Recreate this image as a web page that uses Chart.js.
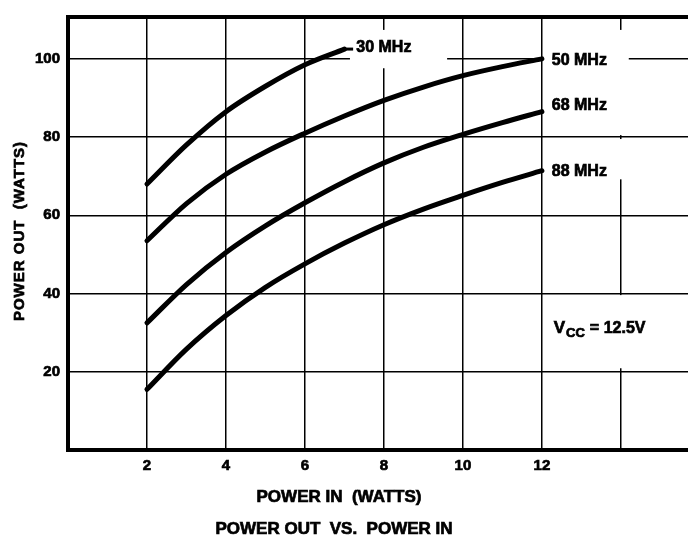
<!DOCTYPE html>
<html>
<head>
<meta charset="utf-8">
<script src="https://cdn.jsdelivr.net/npm/chart.js@4.4.1/dist/chart.umd.min.js"></script>
<style>
html, body { margin: 0; padding: 0; background: #fff; }
#wrap { width: 688px; height: 539px; }
</style>
</head>
<body>
<div id="wrap"><canvas id="powerChart" width="688" height="539"></canvas></div>
<script>
// power out vs power in, Vcc = 12.5 V
const inputs30 = [2, 3, 4, 5, 6, 7];
const output30 = [68, 78, 86.5, 93, 98.5, 102.5];

const inputsWide = [2, 3, 4, 5, 6, 7, 8, 9, 10, 11, 12];
const output50 = [53.5, 63, 70.5, 76.2, 81, 85.4, 89.4, 92.8, 95.7, 98, 100];
const output68 = [32.5, 42.3, 50.5, 57.3, 63.2, 68.6, 73.4, 77.4, 80.7, 83.7, 86.5];
const output88 = [15.5, 25.8, 34.4, 41.6, 47.6, 52.9, 57.6, 61.6, 65.1, 68.4, 71.4];

const curveNames = ['30 MHz', '50 MHz', '68 MHz', '88 MHz'];

const xTicks = [0, 2, 4, 6, 8, 10, 12, 14];
const xTickLabels = ['', '2', '4', '6', '8', '10', '12', ''];
const yTicks = [0, 20, 40, 60, 80, 100];
const yTickLabels = ['', '20', '40', '60', '80', '100'];

// where the curve names sit (in axis units), and the gaps cut in the grid around them
const labelSpots = [[7.3, 103], [12.25, 99.6], [12.25, 88], [12.25, 71.2]];
const leader30 = [[7, 102.5], [7.22, 102.5]];
const vccSpot = [12.3, 31];
const gridGapsH = [[100, 7.14, 9.6], [100, 12.05, 14.2]];
const gridGapsV = [[8, 97.6, 107.4], [14, 69.2, 79.5], [14, 80.5, 107.4], [14, 20.9, 39.6]];

const FONT = "'Liberation Sans', Arial, sans-serif";
Chart.defaults.font.family = FONT;
Chart.defaults.color = '#000';

function toPoints(xs, ys) {
    var pts = [];
    for (var i = 0; i < xs.length; i++) {
        pts.push({ x: xs[i], y: ys[i] });
    }
    return pts;
}

function curve(label, xs, ys) {
    return {
        label: label,
        data: toPoints(xs, ys),
        borderColor: '#000',
        borderWidth: 5,
        borderCapStyle: 'round',
        borderJoinStyle: 'round',
        pointRadius: 0,
        fill: false,
        cubicInterpolationMode: 'monotone'
    };
}

// filled + thin stroke, to get the heavy print look
function heavyText(ctx, txt, x, y) {
    ctx.fillText(txt, x, y);
    ctx.strokeText(txt, x, y);
}

const sheetPlugin = {
    id: 'sheet',
    beforeDatasetsDraw(chart) {
        const ctx = chart.ctx;
        const xs = chart.scales.x;
        const ys = chart.scales.y;
        const area = chart.chartArea;

        ctx.save();
        // knock the grid out behind the labels
        ctx.fillStyle = '#fff';
        gridGapsH.forEach(function (g) {
            var py = ys.getPixelForValue(g[0]);
            var x1 = xs.getPixelForValue(g[1]);
            var x2 = xs.getPixelForValue(g[2]);
            ctx.fillRect(x1, py - 2, x2 - x1, 4);
        });
        gridGapsV.forEach(function (g) {
            var px = xs.getPixelForValue(g[0]);
            var y1 = ys.getPixelForValue(g[2]);
            var y2 = ys.getPixelForValue(g[1]);
            ctx.fillRect(px - 2, y1, 4, y2 - y1);
        });

        // heavy frame: top, left, bottom (right side runs off the page)
        ctx.strokeStyle = '#000';
        ctx.lineWidth = 4;
        ctx.lineCap = 'square';
        ctx.beginPath();
        ctx.moveTo(area.right, area.top);
        ctx.lineTo(area.left, area.top);
        ctx.lineTo(area.left, area.bottom);
        ctx.lineTo(area.right, area.bottom);
        ctx.stroke();

        // little leader from the 30 MHz curve to its name
        ctx.lineWidth = 3;
        ctx.lineCap = 'butt';
        ctx.beginPath();
        ctx.moveTo(xs.getPixelForValue(leader30[0][0]), ys.getPixelForValue(leader30[0][1]));
        ctx.lineTo(xs.getPixelForValue(leader30[1][0]), ys.getPixelForValue(leader30[1][1]));
        ctx.stroke();

        // curve names
        ctx.fillStyle = '#000';
        ctx.lineWidth = 0.7;
        ctx.textBaseline = 'middle';
        ctx.textAlign = 'left';
        ctx.font = 'bold 16px ' + FONT;
        curveNames.forEach(function (name, i) {
            heavyText(ctx, name, xs.getPixelForValue(labelSpots[i][0]), ys.getPixelForValue(labelSpots[i][1]));
        });

        // V_CC = 12.5V
        var vx = xs.getPixelForValue(vccSpot[0]);
        var vy = ys.getPixelForValue(vccSpot[1]);
        ctx.font = 'bold 17px ' + FONT;
        heavyText(ctx, 'V', vx, vy);
        vx += ctx.measureText('V').width + 1;
        ctx.font = 'bold 13px ' + FONT;
        heavyText(ctx, 'CC', vx, vy + 5);
        vx += ctx.measureText('CC').width + 5;
        ctx.font = 'bold 16px ' + FONT;
        heavyText(ctx, '= 12.5V', vx, vy);
        ctx.restore();
    },
    afterDraw(chart) {
        const ctx = chart.ctx;
        ctx.save();
        ctx.fillStyle = '#000';
        ctx.strokeStyle = '#000';
        ctx.lineWidth = 0.7;
        ctx.textAlign = 'center';
        ctx.textBaseline = 'middle';

        ctx.font = 'bold 17px ' + FONT;
        heavyText(ctx, 'POWER IN  (WATTS)', 339, 497);
        heavyText(ctx, 'POWER OUT  VS.  POWER IN', 334, 529);

        ctx.translate(20, 231);
        ctx.rotate(-Math.PI / 2);
        ctx.font = 'bold 15px ' + FONT;
        ctx.letterSpacing = '1px';
        heavyText(ctx, 'POWER OUT  (WATTS)', 0, 0);
        ctx.restore();
    }
};

new Chart(document.getElementById('powerChart'), {
    type: 'line',
    data: {
        datasets: [
            curve(curveNames[0], inputs30, output30),
            curve(curveNames[1], inputsWide, output50),
            curve(curveNames[2], inputsWide, output68),
            curve(curveNames[3], inputsWide, output88)
        ]
    },
    options: {
        responsive: false,
        animation: false,
        layout: { padding: { top: 10, right: 0, bottom: 0, left: 0 } },
        plugins: {
            legend: { display: false },
            tooltip: { enabled: false }
        },
        scales: {
            x: {
                type: 'linear',
                min: 0,
                max: 15.7,
                afterBuildTicks: function (s) {
                    s.ticks = xTicks.map(function (v) { return { value: v }; });
                },
                afterFit: function (s) { s.height = 89; },
                border: { display: false },
                grid: { color: '#000', lineWidth: 1.5, drawTicks: false },
                ticks: {
                    autoSkip: false,
                    maxRotation: 0,
                    padding: 7,
                    color: '#000',
                    textStrokeColor: '#000',
                    textStrokeWidth: 0.7,
                    font: { size: 15, weight: 'bold' },
                    callback: function (v) {
                        var i = xTicks.indexOf(v);
                        return i >= 0 ? xTickLabels[i] : '';
                    }
                }
            },
            y: {
                type: 'linear',
                min: 0,
                max: 110.7,
                afterBuildTicks: function (s) {
                    s.ticks = yTicks.map(function (v) { return { value: v }; });
                },
                afterFit: function (s) { s.width = 68; },
                border: { display: false },
                grid: { color: '#000', lineWidth: 1.5, drawTicks: false },
                ticks: {
                    padding: 8,
                    color: '#000',
                    textStrokeColor: '#000',
                    textStrokeWidth: 0.7,
                    font: { size: 15, weight: 'bold' },
                    callback: function (v) {
                        var i = yTicks.indexOf(v);
                        return i >= 0 ? yTickLabels[i] : '';
                    }
                }
            }
        }
    },
    plugins: [sheetPlugin]
});
</script>
</body>
</html>
